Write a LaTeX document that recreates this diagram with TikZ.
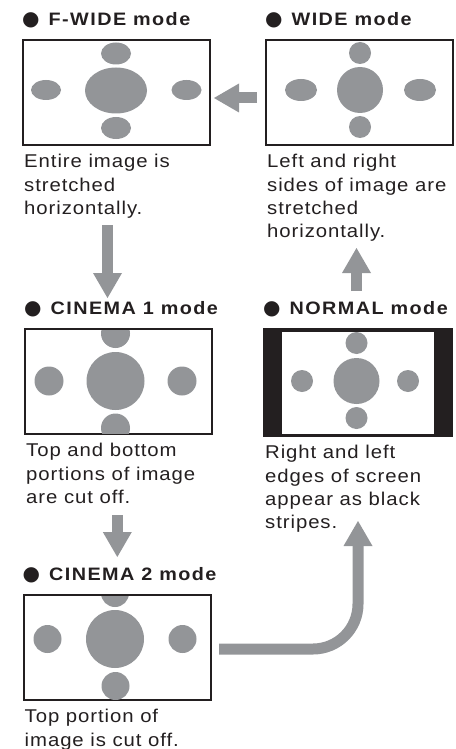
\documentclass[tikz,border=0pt]{standalone}
\usepackage{fontspec}
\setmainfont{Liberation Sans}
\newfontfamily\capfont{Liberation Sans}[FakeStretch=1.1,LetterSpace=5]
\newfontfamily\ttlfont{Liberation Sans}[FakeStretch=1.1,LetterSpace=8]
\newfontfamily\bulfont{DejaVu Sans}
\usetikzlibrary{positioning,calc,arrows.meta}
\definecolor{ink}{HTML}{231F20}
\definecolor{mgray}{HTML}{939598}
\newcommand{\bul}{{\bulfont\fontsize{20}{20}\selectfont ●}\hspace{9pt}}

\begin{document}
\begin{tikzpicture}[x=1pt,y=-1pt,
		screen/.style={draw=ink,line width=2pt,minimum width=187pt,minimum height=105pt,inner sep=0pt,outer sep=0pt},
		title/.style={anchor=base west,inner sep=0pt,text=ink,font=\ttlfont\bfseries\fontsize{18}{18}\selectfont},
		caption/.style={anchor=base west,inner sep=0pt,align=left,text=ink,font=\capfont\fontsize{18.5}{23.3}\selectfont},
		dot/.style={fill=mgray},
		bigarrow/.style={draw=mgray,line width=11pt,-{Triangle[width=29pt,length=25pt,line width=0pt]}}]
	\useasboundingbox (0,0) rectangle (455,749);

	% the five screens
	\node[screen] (FWIDE)  at (116.5,92.5)  {};
	\node[screen] (WIDE)   at (359.5,92.5)  {};
	\node[screen] (CINA)   at (118.5,381.5) {};
	\node[screen,fill=ink,minimum width=188pt,minimum height=107pt] (NORMAL) at (358,382.5) {};
	\node[screen] (CINB)   at (117,647.5)   {};

	% F-WIDE picture
	\fill[dot] (116,53.5) ellipse [x radius=15,y radius=11];
	\fill[dot] (116,90.5) ellipse [x radius=31,y radius=23];
	\fill[dot] (46,90) ellipse [x radius=15,y radius=10];
	\fill[dot] (186.5,90) ellipse [x radius=15,y radius=10];
	\fill[dot] (116,128) ellipse [x radius=15,y radius=11];

	% WIDE picture
	\fill[dot] (360,53) circle [radius=11];
	\fill[dot] (360,90) circle [radius=23];
	\fill[dot] (301,90) ellipse [x radius=16,y radius=11];
	\fill[dot] (420,90) ellipse [x radius=16,y radius=11];
	\fill[dot] (360,127) circle [radius=11];

	% CINEMA 1 picture
	\begin{scope}
		\clip ([shift={(1,1)}]CINA.north west) rectangle ([shift={(-1,-1)}]CINA.south east);
		\fill[dot] (115.5,333.5) circle [radius=14.5];
		\fill[dot] (115.5,381) circle [radius=29];
		\fill[dot] (49,381) circle [radius=14.5];
		\fill[dot] (182,381) circle [radius=14.5];
		\fill[dot] (115.5,428) circle [radius=14.5];
	\end{scope}

	% NORMAL picture
	\fill[white] (282,331.5) rectangle (434,434);
	\fill[dot] (356.5,343) circle [radius=11];
	\fill[dot] (356.5,381) circle [radius=23];
	\fill[dot] (302,381) circle [radius=11];
	\fill[dot] (408,381) circle [radius=11];
	\fill[dot] (356.5,418) circle [radius=11];

	% CINEMA 2 picture
	\begin{scope}
		\clip ([shift={(1,1)}]CINB.north west) rectangle ([shift={(-1,-1)}]CINB.south east);
		\fill[dot] (115,593) circle [radius=14];
		\fill[dot] (115,639) circle [radius=29];
		\fill[dot] (47.5,639) circle [radius=14];
		\fill[dot] (182.5,639) circle [radius=14];
		\fill[dot] (115.5,686) circle [radius=14];
	\end{scope}

	% titles
	\node[title] (TFWIDE)  at ([shift={(-1,-14.5)}]FWIDE.north west)  {\bul F-WIDE mode};
	\node[title] (TWIDE)   at ([shift={(-1,-14.5)}]WIDE.north west)   {\bul WIDE mode};
	\node[title] (TCINA)   at ([shift={(-1,-14.5)}]CINA.north west)   {\bul CINEMA 1 mode};
	\node[title] (TNORMAL) at ([shift={(-1,-14.5)}]NORMAL.north west) {\bul NORMAL mode};
	\node[title] (TCINB)   at ([shift={(-1,-14.5)}]CINB.north west)   {\bul CINEMA 2 mode};

	% captions (base = last line)
	\node[caption] (CFWIDE)  at ([shift={(1,69.3)}]FWIDE.south west)  {Entire image is\\stretched\\horizontally.};
	\node[caption] (CWIDE)   at ([shift={(1,92.6)}]WIDE.south west)   {Left and right\\sides of image are\\stretched\\horizontally.};
	\node[caption] (CCINA)   at ([shift={(1,69.3)}]CINA.south west)   {Top and bottom\\portions of image\\are cut off.};
	\node[caption] (CNORMAL) at ([shift={(1,92.6)}]NORMAL.south west) {Right and left\\edges of screen\\appear as black\\stripes.};
	\node[caption] (CCINB)   at ([shift={(1,46)}]CINB.south west)     {Top portion of\\image is cut off.};

	% mode changes
	\draw[bigarrow] ([shift={(-9,5.5)}]WIDE.west) -- ([shift={(4,5.5)}]FWIDE.east);
	\draw[bigarrow] ([shift={(-9,80)}]FWIDE.south) -- ([shift={(-11,-31)}]CINA.north);
	\draw[bigarrow] ([shift={(-1.2,81)}]CINA.south) -- ([shift={(0.3,-38)}]CINB.north);
	\draw[bigarrow,rounded corners=45pt] ([shift={(8.5,1.5)}]CINB.east) -| ([yshift=-85pt]NORMAL.south);
	\draw[bigarrow] ([shift={(-1.5,-38)}]NORMAL.north) -- ([shift={(-3,103)}]WIDE.south);
\end{tikzpicture}
\end{document}
